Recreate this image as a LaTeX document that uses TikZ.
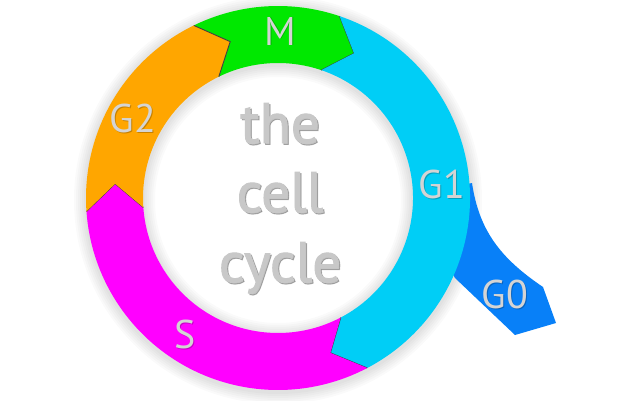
\documentclass[tikz,border=0pt]{standalone}
\usepackage{fontspec}
\setmainfont{PT Sans}
\newfontfamily\titlefont[FakeBold=1.6]{PT Sans}
\definecolor{cM}{RGB}{0,232,0}
\definecolor{cGone}{RGB}{0,206,246}
\definecolor{cS}{RGB}{255,0,255}
\definecolor{cGtwo}{RGB}{255,166,0}
\definecolor{cGzero}{RGB}{8,128,248}
\definecolor{labgrey}{RGB}{212,212,212}
\definecolor{titlegrey}{RGB}{200,200,200}
\newcommand\rOut{192}
\newcommand\rIn{135}
\newcommand\rMid{163.5}
\newcommand\ringseg[5]{%
  \fill[#1] (#2:\rOut) arc[start angle=#2, end angle=#3, radius=\rOut]
    -- (#4:\rMid) -- (#3:\rIn) arc[start angle=#3, end angle=#2, radius=\rIn]
    -- (#5:\rMid) -- cycle;
  \draw[tipedge] (#3:\rOut) -- (#4:\rMid) -- (#3:\rIn);}
\begin{document}
\begin{tikzpicture}[x=1pt,y=1pt,
  tipedge/.style={draw=black!75, line width=0.9pt, line join=miter},
  lab/.style={text=labgrey, font=\fontsize{40}{40}\selectfont, inner sep=0pt},
  labshadow/.style={text=black, opacity=0.22, font=\fontsize{40}{40}\selectfont, inner sep=0pt},
  title/.style={text=titlegrey, font=\titlefont\fontsize{57}{57}\selectfont, inner sep=0pt, anchor=base},
  titleshadow/.style={text=black, opacity=0.25, font=\titlefont\fontsize{57}{57}\selectfont, inner sep=0pt, anchor=base}]
\useasboundingbox (0,0) rectangle (640,400);
\fill[white] (0,0) rectangle (640,400);
% soft halo round the ring
\begin{scope}[shift={(278,200)}]
  \foreach \w in {4,8,12,16,20,24}
    \draw[black, opacity=0.018, line width={57+\w}] (0,0) circle (\rMid);
\end{scope}
% G0 tail (drawn under the ring)
\fill[cGzero] (440,210) -- (472,217) .. controls (479,170) and (500,142) .. (543,113)
  -- (556,77) -- (515,65) -- (455,122) -- (440,150) -- cycle;
% ring segments
\begin{scope}[shift={(278,202)}]
  \ringseg{cM}{116}{71.3}{62.3}{107}
  \ringseg{cGone}{71.3}{-62.3}{-71.3}{62.3}
  \ringseg{cS}{-62.3}{-176}{-185}{-71.3}
  \ringseg{cGtwo}{184}{116}{107}{175}
\end{scope}
% phase labels
\node[labshadow] (Ms) at (281,368) {M};
\node[lab] (M) at (280,369) {M};
\node[labshadow] (G2s) at (134,281) {G2};
\node[lab] (G2) at (133,282) {G2};
\node[labshadow] (G1s) at (443,215) {G1};
\node[lab] (G1) at (442,216) {G1};
\node[labshadow] (G0s) at (506,105) {G0};
\node[lab] (G0) at (505,106) {G0};
\node[labshadow] (Ss) at (186,65) {S};
\node[lab] (S) at (185,66) {S};
% central title
\node[titleshadow] (t1s) at (281.5,255.5) {the};
\node[title] (t1) at (280,257) {the};
\node[titleshadow] (t2s) at (281.5,186.5) {cell};
\node[title] (t2) at (280,188) {cell};
\node[titleshadow] (t3s) at (281.5,116.5) {cycle};
\node[title] (t3) at (280,118) {cycle};
\end{tikzpicture}
\end{document}
